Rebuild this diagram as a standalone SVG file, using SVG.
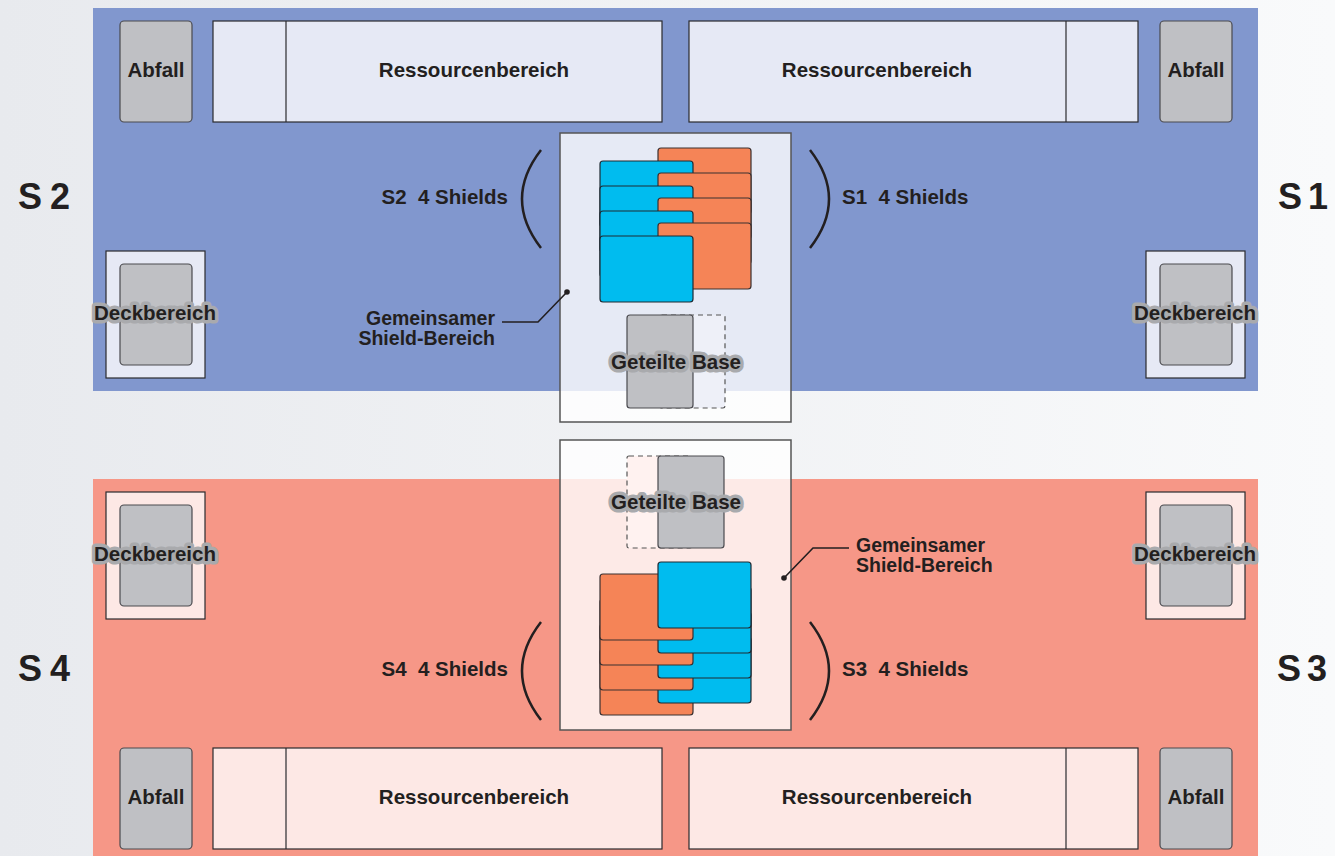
<svg xmlns="http://www.w3.org/2000/svg" width="1335" height="856" viewBox="0 0 1335 856">
<defs>
<linearGradient id="bg" x1="0" y1="0" x2="1" y2="0">
<stop offset="0" stop-color="#e8eaee"/>
<stop offset="1" stop-color="#f9fafb"/>
</linearGradient>
<style>
text{font-family:"Liberation Sans",Arial,sans-serif;font-weight:bold;fill:#231f20}
.lbl{font-size:20.5px;text-anchor:middle}
.note{font-size:19.5px}
.halo{font-size:20.5px;text-anchor:middle;stroke:#a9aaad;stroke-width:7;stroke-linejoin:round;paint-order:stroke}
.side{font-size:36px}
.card{fill:#bfc0c4;stroke:#4a4a4f;stroke-width:1.2}
.res{stroke:#2a2a2e;stroke-width:1.2}
.or{fill:#f58457;stroke:#3a3030;stroke-width:1.2}
.bl{fill:#00bcef;stroke:#1f2a33;stroke-width:1.2}
.dash{stroke:#555;stroke-width:1.2;stroke-dasharray:5 4}
.brk{fill:none;stroke:#231f20;stroke-width:2.5}
.lead{fill:none;stroke:#231f20;stroke-width:1.6}
.shared{fill:#ffffff;fill-opacity:0.8;stroke:#555;stroke-width:1.5}
</style>
</defs>
<rect width="1335" height="856" fill="url(#bg)"/>
<g id="side-labels">
<text class="side" y="209"><tspan x="18">S</tspan><tspan x="50">2</tspan></text>
<text class="side" y="209"><tspan x="1278">S</tspan><tspan x="1308">1</tspan></text>
<text class="side" y="681"><tspan x="18">S</tspan><tspan x="50">4</tspan></text>
<text class="side" y="681"><tspan x="1277">S</tspan><tspan x="1307">3</tspan></text>
</g>
<g id="zone-top">
<rect x="93" y="8" width="1165" height="383" fill="#8197ce"/>
</g>
<g id="zone-bottom">
<rect x="93" y="479" width="1165" height="377" fill="#f69787"/>
</g>
<g id="abfall-tl"><rect class="card" x="120" y="21" width="72" height="101" rx="4"/><text class="lbl" x="156" y="77">Abfall</text></g>
<g id="abfall-tr"><rect class="card" x="1160" y="21" width="72" height="101" rx="4"/><text class="lbl" x="1196" y="77">Abfall</text></g>
<g id="abfall-bl"><rect class="card" x="120" y="748" width="72" height="101" rx="4"/><text class="lbl" x="156" y="804">Abfall</text></g>
<g id="abfall-br"><rect class="card" x="1160" y="748" width="72" height="101" rx="4"/><text class="lbl" x="1196" y="804">Abfall</text></g>
<g id="res-tl"><rect class="res" x="213" y="21" width="449" height="101" fill="#e6e9f5"/><line class="res" x1="286" y1="21" x2="286" y2="122"/><text class="lbl" x="474" y="77">Ressourcenbereich</text></g>
<g id="res-tr"><rect class="res" x="689" y="21" width="449" height="101" fill="#e6e9f5"/><line class="res" x1="1066" y1="21" x2="1066" y2="122"/><text class="lbl" x="877" y="77">Ressourcenbereich</text></g>
<g id="res-bl"><rect class="res" x="213" y="748" width="449" height="101" fill="#fde8e5"/><line class="res" x1="286" y1="748" x2="286" y2="849"/><text class="lbl" x="474" y="804">Ressourcenbereich</text></g>
<g id="res-br"><rect class="res" x="689" y="748" width="449" height="101" fill="#fde8e5"/><line class="res" x1="1066" y1="748" x2="1066" y2="849"/><text class="lbl" x="877" y="804">Ressourcenbereich</text></g>
<g id="deck-tl"><rect class="res" x="106" y="251" width="99" height="127" fill="#e6e9f5"/><rect class="card" x="120" y="264" width="72" height="101" rx="4"/><text class="halo" x="155" y="320">Deckbereich</text></g>
<g id="deck-tr"><rect class="res" x="1146" y="251" width="99" height="127" fill="#e6e9f5"/><rect class="card" x="1160" y="264" width="72" height="101" rx="4"/><text class="halo" x="1195" y="320">Deckbereich</text></g>
<g id="deck-bl"><rect class="res" x="106" y="492" width="99" height="127" fill="#fde8e5"/><rect class="card" x="120" y="505" width="72" height="101" rx="4"/><text class="halo" x="155" y="561">Deckbereich</text></g>
<g id="deck-br"><rect class="res" x="1146" y="492" width="99" height="127" fill="#fde8e5"/><rect class="card" x="1160" y="505" width="72" height="101" rx="4"/><text class="halo" x="1195" y="561">Deckbereich</text></g>
<g id="shared-top">
<rect class="shared" x="560" y="133" width="231" height="289"/>
<rect class="or" x="658" y="148" width="93" height="66" rx="3"/>
<rect class="bl" x="600" y="161" width="93" height="66" rx="3"/>
<rect class="or" x="658" y="173" width="93" height="66" rx="3"/>
<rect class="bl" x="600" y="186" width="93" height="66" rx="3"/>
<rect class="or" x="658" y="198" width="93" height="66" rx="3"/>
<rect class="bl" x="600" y="211" width="93" height="66" rx="3"/>
<rect class="or" x="658" y="223" width="93" height="66" rx="3"/>
<rect class="bl" x="600" y="236" width="93" height="66" rx="3"/>
<rect class="dash" x="660" y="315" width="65" height="93" rx="2" fill="#eef0f8"/>
<rect class="card" x="627" y="315" width="66" height="93" rx="3"/>
<text class="halo" x="676" y="369">Geteilte Base</text>
</g>
<g id="shared-bottom">
<rect class="shared" x="560" y="440" width="231" height="290"/>
<rect class="dash" x="627" y="456" width="65" height="92" rx="2" fill="#fff2f0"/>
<rect class="card" x="658" y="456" width="66" height="92" rx="3"/>
<text class="halo" x="676" y="509">Geteilte Base</text>
<rect class="or" x="600" y="649" width="93" height="66" rx="3"/>
<rect class="bl" x="658" y="637" width="93" height="66" rx="3"/>
<rect class="or" x="600" y="624" width="93" height="66" rx="3"/>
<rect class="bl" x="658" y="612" width="93" height="66" rx="3"/>
<rect class="or" x="600" y="599" width="93" height="66" rx="3"/>
<rect class="bl" x="658" y="587" width="93" height="66" rx="3"/>
<rect class="or" x="600" y="574" width="93" height="66" rx="3"/>
<rect class="bl" x="658" y="562" width="93" height="66" rx="3"/>
</g>
<g id="shield-labels">
<text class="lbl" x="508" y="204" style="text-anchor:end" xml:space="preserve">S2  4 Shields</text>
<text class="lbl" x="842" y="204" style="text-anchor:start" xml:space="preserve">S1  4 Shields</text>
<text class="lbl" x="508" y="676" style="text-anchor:end" xml:space="preserve">S4  4 Shields</text>
<text class="lbl" x="842" y="676" style="text-anchor:start" xml:space="preserve">S3  4 Shields</text>
<text class="note" x="495" y="325" style="text-anchor:end">Gemeinsamer</text>
<text class="note" x="495" y="345" style="text-anchor:end">Shield-Bereich</text>
<text class="note" x="856" y="552" style="text-anchor:start">Gemeinsamer</text>
<text class="note" x="856" y="572" style="text-anchor:start">Shield-Bereich</text>
</g>
<g id="connectors">
<path class="brk" d="M541 150 Q503 199 541 248"/>
<path class="brk" d="M810 150 Q848 199 810 248"/>
<path class="brk" d="M541 622 Q503 671 541 720"/>
<path class="brk" d="M810 622 Q848 671 810 720"/>
<path class="lead" d="M502 322 L538 322 L567 292"/>
<circle cx="567" cy="292" r="2.8" fill="#231f20"/>
<path class="lead" d="M849 548 L813 548 L784 578"/>
<circle cx="784" cy="578" r="2.8" fill="#231f20"/>
</g>
</svg>
